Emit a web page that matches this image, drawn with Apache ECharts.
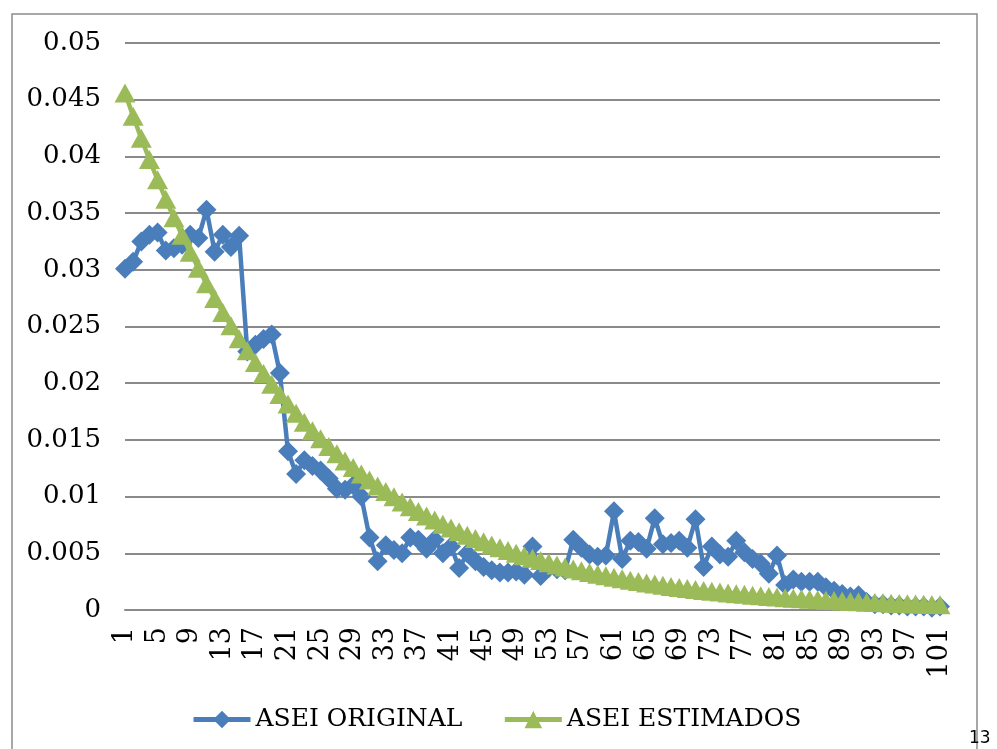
<!DOCTYPE html>
<html>
<head>
<meta charset="utf-8">
<script src="https://cdn.jsdelivr.net/npm/echarts@6/dist/echarts.min.js"></script>
<style>
  html, body { margin: 0; padding: 0; background: #ffffff; }
  #chart { width: 997px; height: 749px; }
</style>
</head>
<body>
<div id="chart"></div>
<script>
// Categories 1..101
const categories = [
  1,2,3,4,5,6,7,8,9,10,11,12,13,14,15,16,17,18,19,20,
  21,22,23,24,25,26,27,28,29,30,31,32,33,34,35,36,37,38,39,40,
  41,42,43,44,45,46,47,48,49,50,51,52,53,54,55,56,57,58,59,60,
  61,62,63,64,65,66,67,68,69,70,71,72,73,74,75,76,77,78,79,80,
  81,82,83,84,85,86,87,88,89,90,91,92,93,94,95,96,97,98,99,100,101
].map(String);

// ASEI ORIGINAL
const aseiOriginal = [
  0.0301, 0.0307, 0.0325, 0.0331, 0.0333, 0.0317, 0.0319, 0.0322, 0.0331, 0.0328,
  0.0353, 0.0316, 0.0331, 0.0320, 0.0330, 0.0228, 0.0234, 0.0239, 0.0243, 0.0209,
  0.0140, 0.0120, 0.0132, 0.0127, 0.0123, 0.0116, 0.0107, 0.0106, 0.0110, 0.0100,
  0.0064, 0.0043, 0.0057, 0.0053, 0.0050, 0.0064, 0.0062, 0.0054, 0.0062, 0.0050,
  0.0056, 0.0037, 0.0050, 0.0043, 0.0038, 0.0035, 0.0033, 0.0033, 0.0034, 0.0031,
  0.0056, 0.0030, 0.0037, 0.0036, 0.0035, 0.0062, 0.0055, 0.0049, 0.0047, 0.0048,
  0.0087, 0.0045, 0.0061, 0.0060, 0.0054, 0.0081, 0.0058, 0.0059, 0.0061, 0.0055,
  0.0080, 0.0038, 0.0056, 0.0049, 0.0047, 0.0061, 0.0051, 0.0045, 0.0041, 0.0032,
  0.0048, 0.0022, 0.0027, 0.0025, 0.0025, 0.0025, 0.0020, 0.0017, 0.0014, 0.0012,
  0.0013, 0.0007, 0.0005, 0.0005, 0.0004, 0.0004, 0.0003, 0.0003, 0.0003, 0.0002,
  0.0003
];

// ASEI ESTIMADOS
const aseiEstimados = [
  0.04560, 0.04355, 0.04159, 0.03972, 0.03793, 0.03622, 0.03459, 0.03304, 0.03155, 0.03013,
  0.02877, 0.02748, 0.02624, 0.02506, 0.02393, 0.02286, 0.02183, 0.02085, 0.01991, 0.01901,
  0.01816, 0.01734, 0.01656, 0.01581, 0.01510, 0.01442, 0.01377, 0.01315, 0.01256, 0.01200,
  0.01146, 0.01094, 0.01045, 0.00998, 0.00953, 0.00910, 0.00869, 0.00830, 0.00793, 0.00757,
  0.00723, 0.00690, 0.00659, 0.00630, 0.00601, 0.00574, 0.00548, 0.00524, 0.00500, 0.00478,
  0.00456, 0.00436, 0.00416, 0.00397, 0.00379, 0.00362, 0.00346, 0.00330, 0.00315, 0.00301,
  0.00288, 0.00275, 0.00262, 0.00251, 0.00239, 0.00229, 0.00218, 0.00208, 0.00199, 0.00190,
  0.00181, 0.00173, 0.00166, 0.00158, 0.00151, 0.00144, 0.00138, 0.00131, 0.00125, 0.00120,
  0.00114, 0.00109, 0.00104, 0.00100, 0.00095, 0.00091, 0.00087, 0.00083, 0.00079, 0.00076,
  0.00072, 0.00069, 0.00066, 0.00063, 0.00060, 0.00057, 0.00055, 0.00052, 0.00050, 0.00048,
  0.00046
];

const seriesNames = ['ASEI ORIGINAL', 'ASEI ESTIMADOS'];
const pageNumber = '13';

const serif = '"DejaVu Serif", "Liberation Serif", serif';
const gridGray = '#8a8a8a';

const chart = echarts.init(document.getElementById('chart'), null, { renderer: 'canvas' });

chart.setOption({
  backgroundColor: '#ffffff',
  animation: false,
  textStyle: { fontFamily: serif, color: '#000000' },
  grid: { left: 125, right: 57, top: 43, bottom: 139, containLabel: false },
  legend: {
    data: seriesNames,
    bottom: 12,
    left: 186,
    itemWidth: 57,
    itemHeight: 22,
    itemGap: 40,
    lineStyle: { width: 5 },
    textStyle: { fontFamily: serif, fontSize: 25, color: '#000000' }
  },
  xAxis: {
    type: 'category',
    data: categories,
    boundaryGap: false,
    axisTick: { show: false },
    axisLine: { show: true, lineStyle: { color: gridGray, width: 2 } },
    splitLine: { show: false },
    axisLabel: {
      interval: 3,
      rotate: 90,
      margin: 17,
      fontFamily: serif,
      fontSize: 27,
      color: '#000000'
    }
  },
  yAxis: {
    type: 'value',
    min: 0,
    max: 0.05,
    interval: 0.005,
    axisLine: { show: false },
    axisTick: { show: false },
    splitLine: { show: true, lineStyle: { color: gridGray, width: 2 } },
    axisLabel: {
      margin: 24,
      fontFamily: serif,
      fontSize: 26,
      color: '#000000',
      formatter: v => String(+v.toFixed(3))
    }
  },
  series: [
    {
      name: seriesNames[0],
      type: 'line',
      data: aseiOriginal,
      symbol: 'diamond',
      symbolSize: 20,
      showAllSymbol: true,
      color: '#4a7ebb',
      lineStyle: { width: 4.5, color: '#4a7ebb' },
      itemStyle: { color: '#4a7ebb' },
      z: 2
    },
    {
      name: seriesNames[1],
      type: 'line',
      data: aseiEstimados,
      symbol: 'triangle',
      symbolSize: [21, 19],
      showAllSymbol: true,
      color: '#9bbb59',
      lineStyle: { width: 4.5, color: '#9bbb59' },
      itemStyle: { color: '#9bbb59' },
      z: 3
    }
  ],
  graphic: [
    {
      type: 'rect',
      shape: { x: 12, y: 14, width: 965, height: 760 },
      style: { fill: 'none', stroke: '#8c8c8c', lineWidth: 1.5 },
      silent: true,
      z: -1
    },
    {
      type: 'text',
      left: 969,
      top: 730,
      style: { text: pageNumber, font: '17px "DejaVu Sans", sans-serif', fill: '#000000' },
      silent: true
    }
  ]
});
</script>
</body>
</html>
